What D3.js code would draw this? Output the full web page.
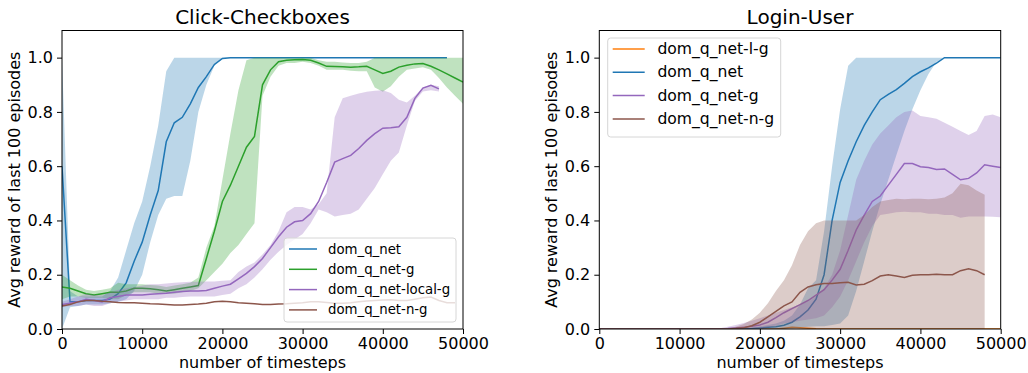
<!DOCTYPE html>
<html lang="en">
<head>
<meta charset="UTF-8">
<title>Click-Checkboxes / Login-User</title>
<script src="https://d3js.org/d3.v7.min.js"></script>
<style>
  body { margin: 0; background: #fff; font-family: "DejaVu Sans", sans-serif; }
  svg text { fill: #000; }
  .tick text { font-size: 16px; font-family: "DejaVu Sans", sans-serif; }
</style>
</head>
<body>
<svg width="1028" height="373"></svg>
<script>
// x grid shared by every series (timesteps)
const steps = d3.range(0, 50001, 1000);
const xTicks = [0, 10000, 20000, 30000, 40000, 50000];
const yTicks = [0, 0.2, 0.4, 0.6, 0.8, 1.0];

// ---- Click-Checkboxes ----
const ccNet    = [0.60,0.10,0.10,0.105,0.105,0.105,0.11,0.13,0.17,0.25,0.32,0.42,0.51,0.69,0.76,0.78,0.83,0.89,0.93,0.975,0.997,1,1,1,1,1,1,1,1,1,1,1,1,1,1,1,1,1,1,1,1,1,1,1,1,1,1,1,1,null,null];
const ccNetLo  = [0.0,0.08,0.085,0.09,0.09,0.09,0.095,0.10,0.11,0.14,0.20,0.32,0.42,0.48,0.49,0.49,0.62,0.80,0.90,0.97,0.995,1,1,1,1,1,1,1,1,1,1,1,1,1,1,1,1,1,1,1,1,1,1,1,1,1,1,1,1,null,null];
const ccNetHi  = [1.0,0.14,0.12,0.12,0.12,0.12,0.14,0.19,0.29,0.39,0.47,0.60,0.75,0.95,1,1,1,1,1,1,1,1,1,1,1,1,1,1,1,1,1,1,1,1,1,1,1,1,1,1,1,1,1,1,1,1,1,1,1,null,null];

const ccG      = [0.155,0.15,0.14,0.13,0.125,0.13,0.135,0.135,0.14,0.15,0.15,0.148,0.145,0.14,0.145,0.15,0.155,0.16,0.26,0.36,0.47,0.53,0.60,0.67,0.71,0.90,0.955,0.985,0.99,0.992,0.993,0.99,0.98,0.968,0.967,0.966,0.965,0.966,0.968,0.955,0.942,0.95,0.965,0.972,0.977,0.978,0.968,0.955,0.94,0.925,0.91];
const ccGLo    = [0.11,0.12,0.12,0.115,0.115,0.115,0.11,0.11,0.125,0.135,0.135,0.135,0.13,0.13,0.13,0.135,0.14,0.15,0.18,0.21,0.24,0.28,0.31,0.35,0.39,0.86,0.93,0.97,0.98,0.98,0.985,0.98,0.97,0.955,0.955,0.955,0.952,0.95,0.95,0.89,0.874,0.895,0.93,0.955,0.96,0.965,0.955,0.925,0.89,0.86,0.83];
const ccGHi    = [0.20,0.18,0.16,0.145,0.14,0.145,0.15,0.17,0.165,0.165,0.165,0.162,0.16,0.155,0.16,0.165,0.17,0.19,0.30,0.38,0.55,0.72,0.88,0.99,1,1,1,1,1,1,1,1,0.99,0.985,0.985,0.982,0.98,0.98,0.985,1,1,1,1,1,1,1,1,1,1,1,1];

const ccLocal   = [0.09,0.095,0.10,0.11,0.105,0.10,0.115,0.12,0.125,0.125,0.125,0.128,0.13,0.132,0.135,0.138,0.14,0.14,0.142,0.15,0.158,0.165,0.185,0.205,0.23,0.26,0.30,0.34,0.375,0.395,0.40,0.425,0.47,0.54,0.615,0.628,0.64,0.665,0.695,0.72,0.74,0.742,0.745,0.78,0.85,0.888,0.898,0.885,null,null,null];
const ccLocalLo = [0.08,0.085,0.085,0.09,0.085,0.085,0.095,0.10,0.105,0.11,0.11,0.11,0.11,0.115,0.115,0.118,0.12,0.12,0.12,0.12,0.125,0.13,0.15,0.165,0.19,0.22,0.255,0.285,0.31,0.33,0.35,0.39,0.44,0.43,0.415,0.42,0.425,0.44,0.48,0.52,0.57,0.62,0.65,0.75,0.84,0.875,0.88,0.875,null,null,null];
const ccLocalHi = [0.10,0.11,0.12,0.13,0.125,0.125,0.135,0.145,0.15,0.155,0.16,0.165,0.165,0.168,0.17,0.172,0.174,0.174,0.175,0.175,0.178,0.18,0.21,0.23,0.245,0.275,0.31,0.36,0.43,0.45,0.45,0.44,0.46,0.50,0.78,0.85,0.86,0.868,0.874,0.878,0.88,0.87,0.845,0.835,0.86,0.89,0.90,0.895,null,null,null];

const ccN = [0.085,0.09,0.10,0.105,0.105,0.102,0.10,0.098,0.097,0.097,0.095,0.093,0.092,0.09,0.088,0.088,0.09,0.092,0.095,0.10,0.102,0.10,0.097,0.095,0.093,0.09,0.09,0.092,0.093,0.095,0.097,0.10,0.10,0.098,0.095,0.095,0.097,0.10,0.103,0.105,0.107,0.108,0.105,0.105,0.11,0.115,0.118,0.105,0.097,0.097,null];

// ---- Login-User ----
const luLG = [0,0,0,0,0,0,0,0,0,0,0,0,0,0,0,0,0,0,0,0,0,0,0,0.003,0.006,0.005,0.003,0.001,0,0,0,0,0,0,0,0,0,0,0,0,0,0,0,0,0,0,0,0,0,0,0];

const luNet   = [0,0,0,0,0,0,0,0,0,0,0,0,0,0,0,0,0,0,0,0.002,0.004,0.006,0.008,0.014,0.025,0.045,0.07,0.11,0.20,0.40,0.54,0.62,0.69,0.75,0.80,0.845,0.865,0.882,0.905,0.93,0.948,0.962,0.98,1,1,1,1,1,1,1,1];
const luNetLo = [0,0,0,0,0,0,0,0,0,0,0,0,0,0,0,0,0,0,0,0,0,0,0,0,0.002,0.005,0.008,0.01,0.01,0.015,0.02,0.05,0.14,0.25,0.36,0.46,0.55,0.64,0.73,0.81,0.88,0.94,0.985,1,1,1,1,1,1,1,1];
const luNetHi = [0,0,0,0,0,0,0,0,0,0,0,0,0,0,0,0,0,0,0,0.005,0.01,0.015,0.02,0.03,0.05,0.09,0.15,0.18,0.36,0.60,0.81,0.97,1,1,1,1,1,1,1,1,1,1,1,1,1,1,1,1,1,1,1];

const luG   = [0,0,0,0,0,0,0,0,0,0,0,0,0,0,0,0.001,0.002,0.004,0.006,0.01,0.015,0.025,0.042,0.06,0.075,0.09,0.105,0.125,0.145,0.18,0.22,0.29,0.365,0.42,0.47,0.49,0.53,0.57,0.61,0.61,0.598,0.595,0.588,0.59,0.57,0.55,0.555,0.575,0.605,0.60,0.595];
const luGLo = [0,0,0,0,0,0,0,0,0,0,0,0,0,0,0,0,0,0,0,0.001,0.003,0.006,0.012,0.02,0.025,0.03,0.035,0.04,0.05,0.08,0.12,0.18,0.25,0.32,0.38,0.42,0.425,0.43,0.432,0.43,0.43,0.425,0.425,0.42,0.42,0.41,0.415,0.415,0.415,0.414,0.412];
const luGHi = [0,0,0,0,0,0,0,0,0,0,0,0,0,0,0,0.003,0.008,0.015,0.022,0.03,0.04,0.05,0.06,0.07,0.08,0.09,0.10,0.12,0.15,0.20,0.29,0.42,0.55,0.62,0.68,0.72,0.75,0.78,0.80,0.805,0.785,0.78,0.775,0.76,0.745,0.73,0.715,0.73,0.785,0.79,0.78];

const luN   = [0,0,0,0,0,0,0,0,0,0,0,0,0,0,0,0,0,0.002,0.005,0.012,0.025,0.045,0.065,0.085,0.10,0.135,0.155,0.163,0.168,0.168,0.17,0.172,0.162,0.165,0.178,0.195,0.20,0.195,0.19,0.198,0.20,0.20,0.202,0.20,0.20,0.215,0.222,0.215,0.20,null,null];
const luNLo = [0,0,0,0,0,0,0,0,0,0,0,0,0,0,0,0,0,0,0,0,0,0,0,0,0,0,0,0,0,0,0,0,0,0,0,0,0,0,0,0,0,0,0,0,0,0,0,0,0,null,null];
const luNHi = [0,0,0,0,0,0,0,0,0,0,0,0,0,0,0,0,0.003,0.008,0.018,0.035,0.06,0.095,0.14,0.18,0.235,0.31,0.36,0.39,0.40,0.40,0.40,0.40,0.40,0.42,0.45,0.47,0.475,0.48,0.478,0.48,0.48,0.478,0.48,0.485,0.50,0.535,0.53,0.51,0.495,null,null];

const colors = { blue: "#1f77b4", orange: "#ff7f0e", green: "#2ca02c", purple: "#9467bd", brown: "#8c564b" };

const panels = [
  {
    title: "Click-Checkboxes", left: 62, right: 463, ylabelX: 20,
    series: [
      { name: "dom_q_net", color: colors.blue, mean: ccNet, lo: ccNetLo, hi: ccNetHi },
      { name: "dom_q_net-g", color: colors.green, mean: ccG, lo: ccGLo, hi: ccGHi },
      { name: "dom_q_net-local-g", color: colors.purple, mean: ccLocal, lo: ccLocalLo, hi: ccLocalHi },
      { name: "dom_q_net-n-g", color: colors.brown, mean: ccN }
    ],
    legend: { x: 284, y: 238, w: 172, h: 84, row: 20.3, font: 13.3, handle: 28, pad: 11 }
  },
  {
    title: "Login-User", left: 599.3, right: 1000.7, ylabelX: 557,
    series: [
      { name: "dom_q_net-l-g", color: colors.orange, mean: luLG },
      { name: "dom_q_net", color: colors.blue, mean: luNet, lo: luNetLo, hi: luNetHi },
      { name: "dom_q_net-g", color: colors.purple, mean: luG, lo: luGLo, hi: luGHi },
      { name: "dom_q_net-n-g", color: colors.brown, mean: luN, lo: luNLo, hi: luNHi }
    ],
    legend: { x: 607.7, y: 38, w: 173, h: 99, row: 23.3, font: 15.6, handle: 32, pad: 12.7 }
  }
];

const plotTop = 30.5, plotBottom = 329;
const svg = d3.select("svg");

panels.forEach((p, i) => {
  const x = d3.scaleLinear().domain([0, 50000]).range([p.left, p.right]);
  const y = d3.scaleLinear().domain([0, 1.1]).range([plotBottom, plotTop]);

  svg.append("clipPath").attr("id", "clip" + i)
    .append("rect")
    .attr("x", p.left).attr("y", plotTop)
    .attr("width", p.right - p.left).attr("height", plotBottom - plotTop);

  const plot = svg.append("g").attr("clip-path", `url(#clip${i})`);

  p.series.forEach(s => {
    const rows = steps.map((t, k) => ({ t, m: s.mean[k], lo: s.lo ? s.lo[k] : null, hi: s.hi ? s.hi[k] : null }));

    if (s.lo) {
      const area = d3.area()
        .defined(d => d.lo != null && d.hi != null)
        .x(d => x(d.t))
        .y0(d => y(d.lo))
        .y1(d => y(d.hi));
      plot.append("path")
        .datum(rows)
        .attr("d", area)
        .attr("fill", s.color)
        .attr("fill-opacity", 0.3);
    }

    const line = d3.line()
      .defined(d => d.m != null)
      .x(d => x(d.t))
      .y(d => y(d.m));
    plot.append("path")
      .datum(rows)
      .attr("d", line)
      .attr("fill", "none")
      .attr("stroke", s.color)
      .attr("stroke-width", 1.5);
  });

  // axes
  const xAxis = svg.append("g")
    .attr("transform", `translate(0,${plotBottom})`)
    .call(d3.axisBottom(x).tickValues(xTicks).tickFormat(d3.format("d")).tickSize(5).tickPadding(4));
  const yAxis = svg.append("g")
    .attr("transform", `translate(${p.left},0)`)
    .call(d3.axisLeft(y).tickValues(yTicks).tickFormat(d3.format(".1f")).tickSize(5).tickPadding(4));
  [xAxis, yAxis].forEach(a => {
    a.select(".domain").remove();
    a.selectAll(".tick line").attr("stroke", "#000").attr("stroke-width", 1);
    a.selectAll(".tick text").style("font-size", "16px");
  });

  // frame
  svg.append("rect")
    .attr("x", p.left).attr("y", plotTop)
    .attr("width", p.right - p.left).attr("height", plotBottom - plotTop)
    .attr("fill", "none").attr("stroke", "#000").attr("stroke-width", 1);

  // title and labels
  const cx = (p.left + p.right) / 2;
  svg.append("text")
    .attr("x", cx).attr("y", 24)
    .attr("text-anchor", "middle")
    .style("font-size", "20px")
    .text(p.title);
  svg.append("text")
    .attr("x", cx).attr("y", 368)
    .attr("text-anchor", "middle")
    .style("font-size", "16px")
    .text("number of timesteps");
  svg.append("text")
    .attr("transform", `translate(${p.ylabelX},${(plotTop + plotBottom) / 2}) rotate(-90)`)
    .attr("text-anchor", "middle")
    .style("font-size", "16px")
    .text("Avg reward of last 100 episodes");

  // legend
  const L = p.legend;
  const lg = svg.append("g");
  lg.append("rect")
    .attr("x", L.x).attr("y", L.y)
    .attr("width", L.w).attr("height", L.h)
    .attr("rx", 3)
    .attr("fill", "#fff").attr("fill-opacity", 0.8)
    .attr("stroke", "#d6d6d6").attr("stroke-width", 1);
  p.series.forEach((s, k) => {
    const ry = L.y + 11 + L.row * k;
    lg.append("line")
      .attr("x1", L.x + 5).attr("x2", L.x + 5 + L.handle)
      .attr("y1", ry).attr("y2", ry)
      .attr("stroke", s.color).attr("stroke-width", 1.5);
    lg.append("text")
      .attr("x", L.x + 5 + L.handle + L.pad)
      .attr("y", ry)
      .attr("dominant-baseline", "central")
      .style("font-size", L.font + "px")
      .text(s.name);
  });
});
</script>
</body>
</html>
